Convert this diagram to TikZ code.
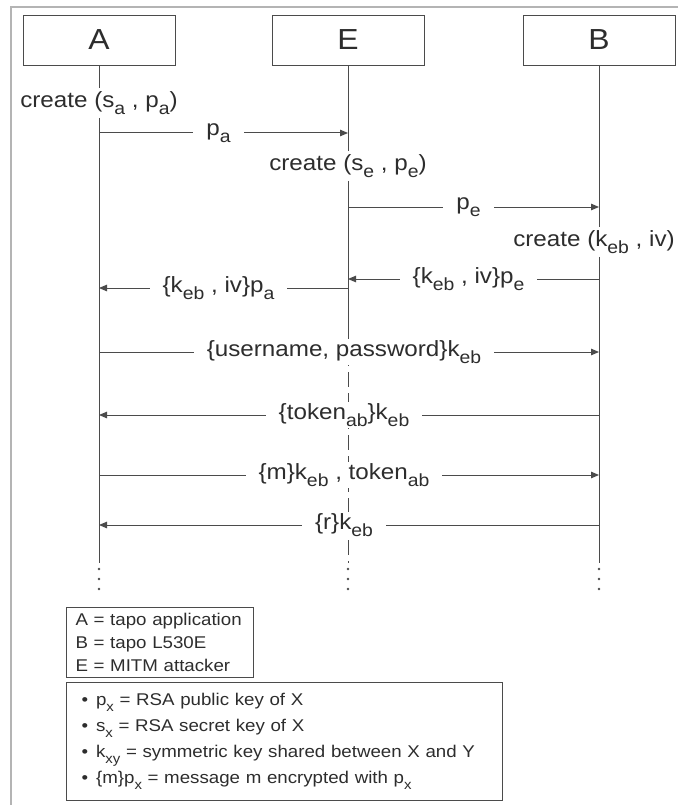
\documentclass[tikz,border=0pt]{standalone}
\usepackage{fontspec}
\setmainfont{Liberation Sans}[FakeStretch=1.1]
\usetikzlibrary{arrows.meta,positioning,calc}
\definecolor{linecolor}{RGB}{75,75,75}
\definecolor{textcolor}{RGB}{45,45,45}
\definecolor{framecolor}{RGB}{180,180,180}
\newcommand{\sbs}[1]{\raisebox{-0.33em}{\scalebox{0.8}{#1}}}

\begin{document}
\begin{tikzpicture}[
    x=1pt, y=-1pt,
    every node/.style={font=\fontsize{22}{26}\selectfont, text=textcolor},
    actor/.style={rectangle, draw=linecolor, fill=white, minimum width=152pt, minimum height=50pt, font=\fontsize{29}{32}\selectfont},
    create/.style={fill=white, inner xsep=2pt, inner ysep=3pt},
    lifeline/.style={draw=linecolor, line width=1pt},
    msg/.style={-{Triangle[length=8pt,width=6.5pt]}, draw=linecolor, line width=1pt},
    msglabel/.style={midway, fill=white, inner xsep=13pt, inner ysep=1pt, xshift=-5pt},
    legendbox/.style={rectangle, draw=linecolor, line width=1pt, anchor=north west, align=left, inner ysep=0pt, font=\fontsize{17}{23}\selectfont}
]
    \useasboundingbox (0,0) rectangle (678,805);
    % outer frame
    \draw[framecolor, line width=1.8pt] (11,805) -- (11,7) -- (678,7);

    % Actors
    \node[actor] (A) at (99,40) {A};
    \node[actor] (E) at (348,40) {E};
    \node[actor] (B) at (599,40) {B};

    % Key creation
    \node[create] (ca) at (99,103) {create (s\sbs{a} , p\sbs{a})};
    \node[create] (ce) at (348,166) {create (s\sbs{e} , p\sbs{e})};
    \node[create] (cb) at (594,242) {create (k\sbs{eb} , iv)};

    % Lifeline points
    \foreach \n/\y in {1/133, 2/207, 3/279, 4/288, 5/352, 6/415, 7/475, 8/525, end/563}{
        \coordinate (A\n) at (99,\y);
        \coordinate (E\n) at (348,\y);
        \coordinate (B\n) at (599,\y);
    }
    \coordinate (Edash) at (348,330);

    % Lifelines
    \draw[lifeline] (A) -- (ca);
    \draw[lifeline] (ca) -- (Aend);
    \draw[lifeline] (E) -- (ce);
    \draw[lifeline] (ce) -- (Edash);
    \draw[lifeline, dash pattern=on 15pt off 6pt] (Edash) -- (Eend);
    \draw[lifeline] (B) -- (B |- cb.north);
    \draw[lifeline] (B |- cb.south) -- (Bend);
    \foreach \x in {99,348,599}
        \foreach \y in {569,579,589}
            \fill[linecolor] (\x,\y) circle (1.3pt);

    % Messages
    \draw[msg] (A1) -- node[msglabel] {p\sbs{a}} (E1);
    \draw[msg] (E2) -- node[msglabel] {p\sbs{e}} (B2);
    \draw[msg] (B3) -- node[msglabel] {\{k\sbs{eb} , iv\}p\sbs{e}} (E3);
    \draw[msg] (E4) -- node[msglabel] {\{k\sbs{eb} , iv\}p\sbs{a}} (A4);
    \draw[msg] (A5) -- node[msglabel] {\{username, password\}k\sbs{eb}} (B5);
    \draw[msg] (B6) -- node[msglabel] {\{token\sbs{ab}\}k\sbs{eb}} (A6);
    \draw[msg] (A7) -- node[msglabel] {\{m\}k\sbs{eb} , token\sbs{ab}} (B7);
    \draw[msg] (B8) -- node[msglabel] {\{r\}k\sbs{eb}} (A8);

    % Legend
    \node[legendbox, inner xsep=9pt, text width=169pt, minimum height=70pt] (roles) at (66,607)
        {A = tapo application\\B = tapo L530E\\E = MITM attacker};
    \node[legendbox, inner xsep=15pt, text width=406pt, minimum height=118pt, font=\fontsize{17}{26}\selectfont] (keys) at (66,682)
        {\textbullet\hspace{8pt}p\sbs{x} = RSA public key of X\\
         \textbullet\hspace{8pt}s\sbs{x} = RSA secret key of X\\
         \textbullet\hspace{8pt}k\sbs{xy} = symmetric key shared between X and Y\\
         \textbullet\hspace{8pt}\{m\}p\sbs{x} = message m encrypted with p\sbs{x}};
\end{tikzpicture}
\end{document}
